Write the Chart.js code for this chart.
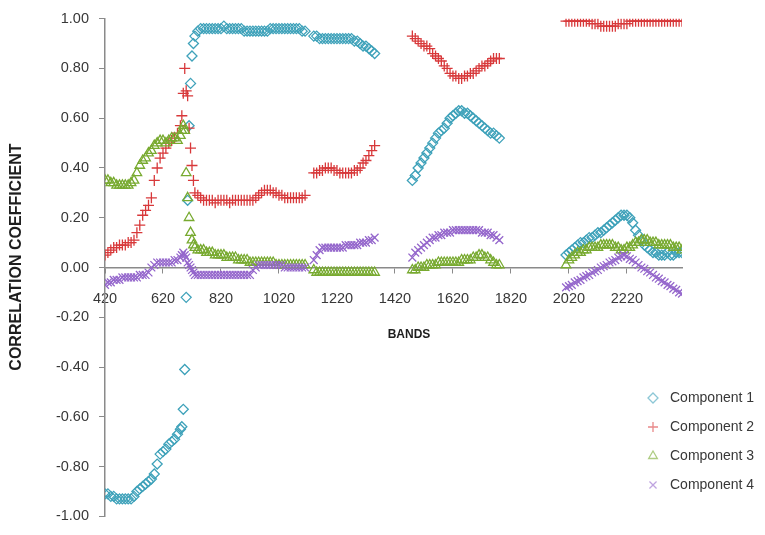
<!DOCTYPE html>
<html>
<head>
<meta charset="utf-8">
<script src="https://cdn.jsdelivr.net/npm/chart.js@4.4.1/dist/chart.umd.min.js"></script>
<style>
  html, body { margin: 0; padding: 0; background: #fff; }
  #wrap { width: 765px; height: 535px; }
</style>
</head>
<body>
<div id="wrap"><canvas id="myChart"></canvas></div>
<script>
// band centres (nm), four spectral ranges
const bands = [
  420, 430, 440, 450, 460, 470, 480, 490, 500, 510,
  520, 530, 540, 550, 560, 570, 580, 590, 600, 610,
  620, 630, 640, 650, 660, 670, 680, 685, 690, 695,
  700, 705, 710, 715, 720, 725, 730, 740, 750, 760,
  770, 780, 790, 800, 810, 820, 830, 840, 850, 860,
  870, 880, 890, 900, 910, 920, 930, 940, 950, 960,
  970, 980, 990, 1000, 1010, 1020, 1030, 1040, 1050, 1060,
  1070, 1080, 1090, 1100, 1110,
  1140, 1150, 1160, 1170, 1180, 1190, 1200, 1210, 1220, 1230, 1240,
  1250, 1260, 1270, 1280, 1290, 1300, 1310, 1320, 1330, 1340, 1350,
  1480, 1490, 1500, 1510, 1520, 1530, 1540, 1550, 1560, 1570,
  1580, 1590, 1600, 1610, 1620, 1630, 1640, 1650, 1660, 1670,
  1680, 1690, 1700, 1710, 1720, 1730, 1740, 1750, 1760, 1770, 1780,
  2010, 2020, 2030, 2040, 2050, 2060, 2070, 2080, 2090, 2100,
  2110, 2120, 2130, 2140, 2150, 2160, 2170, 2180, 2190, 2200,
  2210, 2220, 2230, 2240, 2250, 2260, 2270, 2280, 2290, 2300,
  2310, 2320, 2330, 2340, 2350, 2360, 2370, 2380, 2390, 2400, 2410
];

const comp1 = [
  -0.91, -0.91, -0.92, -0.92, -0.93, -0.93, -0.93, -0.93, -0.93, -0.93,
  -0.92, -0.90, -0.89, -0.88, -0.87, -0.86, -0.85, -0.83, -0.79, -0.75,
  -0.74, -0.73, -0.71, -0.70, -0.69, -0.67, -0.65, -0.64, -0.57, -0.41,
  -0.12, 0.27, 0.57, 0.74, 0.85, 0.90, 0.93, 0.95, 0.96, 0.96,
  0.96, 0.96, 0.96, 0.96, 0.96, 0.96, 0.97, 0.96, 0.96, 0.96,
  0.96, 0.96, 0.96, 0.95, 0.95, 0.95, 0.95, 0.95, 0.95, 0.95,
  0.95, 0.95, 0.96, 0.96, 0.96, 0.96, 0.96, 0.96, 0.96, 0.96,
  0.96, 0.96, 0.96, 0.95, 0.95,
  0.93, 0.93, 0.92, 0.92, 0.92, 0.92, 0.92, 0.92, 0.92, 0.92, 0.92,
  0.92, 0.92, 0.92, 0.91, 0.91, 0.90, 0.89, 0.89, 0.88, 0.87, 0.86,
  0.35, 0.37, 0.40, 0.42, 0.44, 0.46, 0.48, 0.50, 0.52, 0.54,
  0.55, 0.56, 0.58, 0.60, 0.61, 0.62, 0.63, 0.63, 0.62, 0.62,
  0.61, 0.60, 0.59, 0.58, 0.57, 0.56, 0.55, 0.54, 0.54, 0.53, 0.52,
  0.05, 0.06, 0.07, 0.08, 0.09, 0.10, 0.10, 0.11, 0.12, 0.12,
  0.13, 0.14, 0.14, 0.15, 0.16, 0.17, 0.18, 0.19, 0.20, 0.21,
  0.21, 0.21, 0.20, 0.18, 0.15, 0.13, 0.11, 0.09, 0.08, 0.07,
  0.06, 0.06, 0.05, 0.05, 0.05, 0.06, 0.05, 0.05, 0.06, 0.06, 0.06
];

const comp2 = [
  0.05, 0.06, 0.07, 0.08, 0.08, 0.09, 0.09, 0.09, 0.10, 0.10,
  0.11, 0.14, 0.17, 0.21, 0.23, 0.25, 0.28, 0.35, 0.40, 0.44,
  0.46, 0.48, 0.50, 0.51, 0.52, 0.54, 0.57, 0.61, 0.70, 0.80,
  0.71, 0.69, 0.56, 0.48, 0.41, 0.35, 0.30, 0.29, 0.28, 0.27,
  0.27, 0.27, 0.27, 0.26, 0.27, 0.27, 0.27, 0.27, 0.26, 0.27,
  0.27, 0.27, 0.27, 0.27, 0.27, 0.27, 0.27, 0.28, 0.29, 0.30,
  0.31, 0.31, 0.31, 0.30, 0.30, 0.29, 0.29, 0.28, 0.28, 0.28,
  0.28, 0.28, 0.28, 0.28, 0.29,
  0.38, 0.38, 0.39, 0.39, 0.40, 0.40, 0.40, 0.39, 0.39, 0.38, 0.38,
  0.38, 0.38, 0.38, 0.39, 0.39, 0.40, 0.42, 0.43, 0.45, 0.47, 0.49,
  0.93, 0.92, 0.91, 0.90, 0.89, 0.89, 0.88, 0.86, 0.85, 0.84,
  0.83, 0.81, 0.80, 0.78, 0.77, 0.77, 0.76, 0.76, 0.77, 0.77,
  0.78, 0.78, 0.79, 0.80, 0.81, 0.81, 0.82, 0.83, 0.84, 0.84, 0.84,
  0.99, 0.99, 0.99, 0.99, 0.99, 0.99, 0.99, 0.99, 0.99, 0.98,
  0.98, 0.98, 0.97, 0.97, 0.97, 0.97, 0.97, 0.97, 0.98, 0.98,
  0.98, 0.98, 0.99, 0.99, 0.99, 0.99, 0.99, 0.99, 0.99, 0.99,
  0.99, 0.99, 0.99, 0.99, 0.99, 0.99, 0.99, 0.99, 0.99, 0.99, 0.99
];

const comp3 = [
  0.35, 0.35, 0.34, 0.34, 0.33, 0.33, 0.33, 0.33, 0.33, 0.34,
  0.35, 0.38, 0.41, 0.43, 0.44, 0.46, 0.47, 0.49, 0.50, 0.51,
  0.51, 0.50, 0.51, 0.52, 0.52, 0.51, 0.53, 0.55, 0.57, 0.55,
  0.38, 0.28, 0.20, 0.14, 0.11, 0.09, 0.08, 0.07, 0.07, 0.07,
  0.06, 0.06, 0.06, 0.05, 0.05, 0.05, 0.05, 0.04, 0.04, 0.04,
  0.04, 0.03, 0.03, 0.03, 0.03, 0.02, 0.02, 0.02, 0.02, 0.02,
  0.02, 0.02, 0.02, 0.02, 0.01, 0.01, 0.01, 0.01, 0.01, 0.01,
  0.01, 0.01, 0.01, 0.01, 0.01,
  -0.01, -0.02, -0.02, -0.02, -0.02, -0.02, -0.02, -0.02, -0.02, -0.02, -0.02,
  -0.02, -0.02, -0.02, -0.02, -0.02, -0.02, -0.02, -0.02, -0.02, -0.02, -0.02,
  -0.01, -0.01, 0.00, 0.00, 0.00, 0.01, 0.01, 0.01, 0.01, 0.02,
  0.02, 0.02, 0.02, 0.02, 0.02, 0.02, 0.02, 0.03, 0.03, 0.03,
  0.03, 0.04, 0.04, 0.05, 0.05, 0.04, 0.04, 0.03, 0.02, 0.01, 0.01,
  0.01, 0.03, 0.04, 0.05, 0.06, 0.06, 0.07, 0.07, 0.08, 0.08,
  0.08, 0.08, 0.09, 0.09, 0.09, 0.09, 0.09, 0.08, 0.08, 0.07,
  0.07, 0.08, 0.08, 0.09, 0.10, 0.10, 0.11, 0.11, 0.11, 0.10,
  0.10, 0.10, 0.09, 0.09, 0.09, 0.09, 0.09, 0.08, 0.08, 0.08, 0.07
];

const comp4 = [
  -0.07, -0.06, -0.06, -0.05, -0.05, -0.05, -0.04, -0.04, -0.04, -0.04,
  -0.04, -0.04, -0.03, -0.03, -0.03, -0.02, 0.00, 0.01, 0.02, 0.02,
  0.02, 0.02, 0.02, 0.02, 0.03, 0.03, 0.04, 0.05, 0.06, 0.05,
  0.04, 0.02, 0.01, 0.00, -0.01, -0.02, -0.03, -0.03, -0.03, -0.03,
  -0.03, -0.03, -0.03, -0.03, -0.03, -0.03, -0.03, -0.03, -0.03, -0.03,
  -0.03, -0.03, -0.03, -0.03, -0.03, -0.03, -0.01, 0.00, 0.01, 0.01,
  0.01, 0.01, 0.01, 0.01, 0.01, 0.01, 0.01, 0.00, 0.00, 0.00,
  0.00, 0.00, 0.00, 0.00, 0.00,
  0.03, 0.05, 0.07, 0.08, 0.08, 0.08, 0.08, 0.08, 0.08, 0.08, 0.08,
  0.09, 0.09, 0.09, 0.09, 0.09, 0.10, 0.10, 0.10, 0.11, 0.11, 0.12,
  0.04, 0.06, 0.07, 0.08, 0.09, 0.10, 0.11, 0.12, 0.12, 0.13,
  0.13, 0.14, 0.14, 0.14, 0.15, 0.15, 0.15, 0.15, 0.15, 0.15,
  0.15, 0.15, 0.15, 0.15, 0.14, 0.14, 0.14, 0.13, 0.13, 0.12, 0.11,
  -0.08, -0.075, -0.07, -0.06, -0.055, -0.05, -0.04, -0.035, -0.03, -0.02,
  -0.015, -0.01, 0.00, 0.005, 0.01, 0.02, 0.025, 0.03, 0.04, 0.045,
  0.05, 0.045, 0.035, 0.03, 0.02, 0.01, 0.00, -0.005, -0.015, -0.02,
  -0.03, -0.04, -0.045, -0.055, -0.06, -0.07, -0.075, -0.085, -0.09, -0.10, -0.105
];

const seriesNames = ['Component 1', 'Component 2', 'Component 3', 'Component 4'];
const xTicks = [420, 620, 820, 1020, 1220, 1420, 1620, 1820, 2020, 2220];
const yTicks = [-1, -0.8, -0.6, -0.4, -0.2, 0, 0.2, 0.4, 0.6, 0.8, 1];

const FONT = '"Liberation Sans", Arial, sans-serif';
const axisColor = '#8a8a8a';
const textColor = '#383838';

const styles = [
  { color: '#3fa2ba', pointStyle: 'rectRot', radius: 5 },
  { color: '#d8383a', pointStyle: 'cross', radius: 5.5 },
  { color: '#78aa30', pointStyle: 'triangle', radius: 5.5 },
  { color: '#9567cc', pointStyle: 'crossRot', radius: 5.5 },
];

const makeSet = (name, values, i) => ({
  label: name,
  data: bands.map((b, k) => ({ x: b, y: values[k] })),
  showLine: false,
  pointStyle: styles[i].pointStyle,
  pointRadius: styles[i].radius,
  pointBorderColor: styles[i].color,
  pointBackgroundColor: 'rgba(0,0,0,0)',
  pointBorderWidth: 1.3,
  order: 4 - i,
});

const decorations = {
  id: 'decorations',
  afterDraw(chart) {
    const { ctx, scales } = chart;
    const zeroY = scales.y.getPixelForValue(0);
    ctx.save();
    ctx.fillStyle = '#1e1e1e';
    ctx.textAlign = 'center';
    ctx.textBaseline = 'middle';
    ctx.font = 'bold 12px ' + FONT;
    ctx.fillText('BANDS', 409, zeroY + 67);

    ctx.save();
    ctx.translate(17, 257);
    ctx.rotate(-Math.PI / 2);
    ctx.font = 'bold 16px ' + FONT;
    ctx.fillText('CORRELATION COEFFICIENT', 0, 0);
    ctx.restore();

    // legend
    ctx.textAlign = 'left';
    ctx.font = '14px ' + FONT;
    chart.data.datasets.forEach((ds, i) => {
      const y = 398 + i * 29;
      ctx.save();
      ctx.globalAlpha = 0.6;
      ctx.strokeStyle = styles[i].color;
      ctx.fillStyle = 'rgba(0,0,0,0)';
      ctx.lineWidth = 1.3;
      Chart.helpers.drawPoint(ctx, { pointStyle: styles[i].pointStyle, radius: 5, rotation: 0, borderWidth: 1.3 }, 653, y);
      ctx.restore();
      ctx.fillStyle = textColor;
      ctx.fillText(ds.label, 670, y);
    });
    ctx.restore();
  }
};

const ctx = document.getElementById('myChart').getContext('2d');

new Chart(ctx, {
  type: 'scatter',
  data: {
    datasets: [
      makeSet(seriesNames[0], comp1, 0),
      makeSet(seriesNames[1], comp2, 1),
      makeSet(seriesNames[2], comp3, 2),
      makeSet(seriesNames[3], comp4, 3),
    ],
  },
  options: {
    responsive: true,
    maintainAspectRatio: false,
    animation: false,
    events: [],
    layout: { padding: { top: 15, right: 83, bottom: 8, left: 0 } },
    plugins: {
      legend: { display: false },
      tooltip: { enabled: false },
    },
    scales: {
      x: {
        type: 'linear',
        min: 420,
        max: 2410,
        position: { y: 0 },
        afterBuildTicks: (s) => { s.ticks = xTicks.map((v) => ({ value: v })); },
        afterFit: (s) => { s.height = 0; },
        ticks: { color: textColor, font: { family: FONT, size: 14.5 }, padding: 18, maxRotation: 0, autoSkip: false, callback: (v) => String(v) },
        grid: { drawOnChartArea: false, drawTicks: true, tickLength: 5, color: axisColor },
        border: { color: axisColor, width: 1.5 },
      },
      y: {
        min: -1,
        max: 1,
        afterBuildTicks: (s) => { s.ticks = yTicks.map((v) => ({ value: v })); },
        afterFit: (s) => { s.width = 105; },
        ticks: { color: textColor, font: { family: FONT, size: 14.5 }, padding: 10, callback: (v) => v.toFixed(2) },
        grid: { drawOnChartArea: false, drawTicks: true, tickLength: 6, color: axisColor },
        border: { color: axisColor, width: 1.5 },
      },
    },
  },
  plugins: [decorations],
});
</script>
</body>
</html>
